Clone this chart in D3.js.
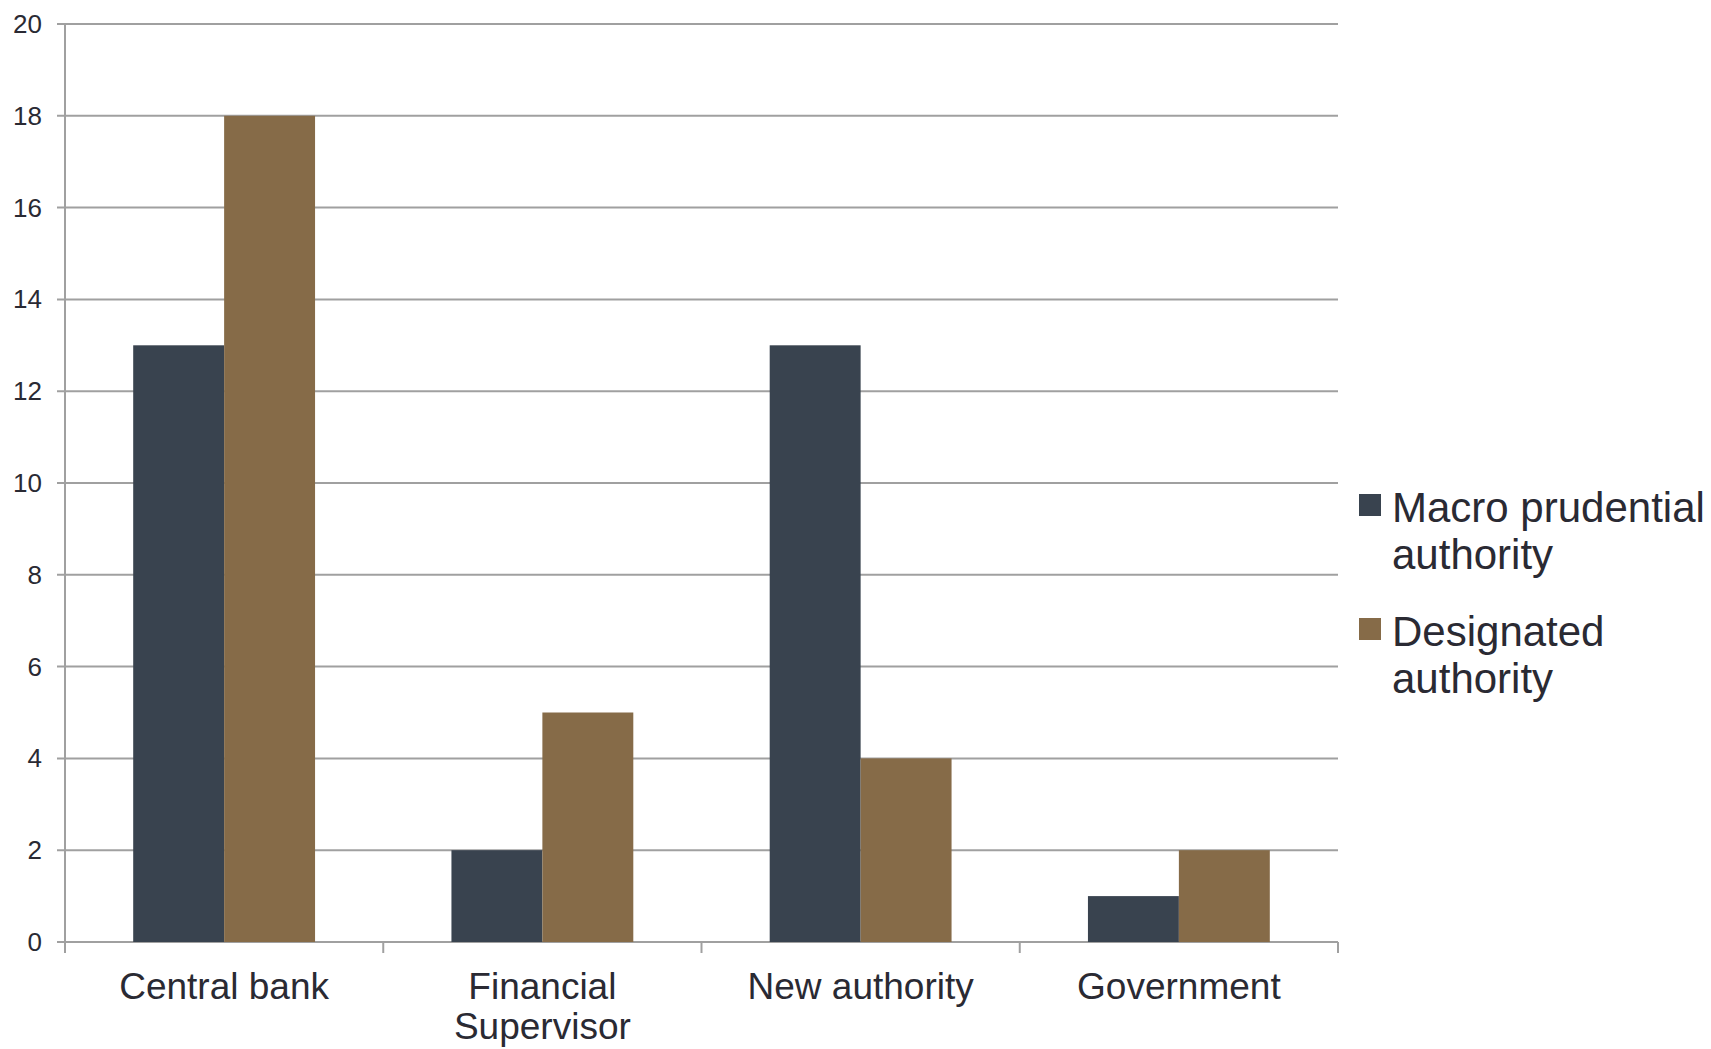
<!DOCTYPE html>
<html>
<head>
<meta charset="utf-8">
<script src="https://cdn.jsdelivr.net/npm/d3@7/dist/d3.min.js"></script>
<style>
  html, body { margin: 0; padding: 0; background: #fff; }
  svg { display: block; }
</style>
</head>
<body>
<svg id="chart" width="1711" height="1049"></svg>
<script>
// Authorities responsible for macroprudential policy, by type of institution
const categories = [["Central bank"], ["Financial", "Supervisor"], ["New authority"], ["Government"]];
const seriesNames = [["Macro prudential", "authority"], ["Designated", "authority"]];
const macroPrudential = [13, 2, 13, 1];
const designated = [18, 5, 4, 2];
const yTicks = [0, 2, 4, 6, 8, 10, 12, 14, 16, 18, 20];
const colors = ["#39434f", "#866b48"];

const svg = d3.select("#chart");
const plotLeft = 65, plotRight = 1338, plotTop = 24, plotBottom = 942;
const gridColor = "#a0a0a0";
const textColor = "#2a2a33";
const font = "'Liberation Sans', Arial, Helvetica, sans-serif";

const keys = categories.map(c => c.join(" "));
const rows = keys.map((k, i) => ({ key: k, values: [macroPrudential[i], designated[i]] }));

const x0 = d3.scaleBand().domain(keys).range([plotLeft, plotRight]).paddingInner(0).paddingOuter(0);
const x1 = d3.scaleBand().domain([0, 1]).range([0, x0.bandwidth()]).paddingInner(0).paddingOuter(0.75);
const y = d3.scaleLinear().domain([0, 20]).range([plotBottom, plotTop]);

// horizontal gridlines with short left ticks
svg.append("g").selectAll("line").data(yTicks).join("line")
  .attr("x1", plotLeft - 8).attr("x2", plotRight)
  .attr("y1", d => y(d)).attr("y2", d => y(d))
  .attr("stroke", gridColor).attr("stroke-width", 2);

// y tick labels
svg.append("g").selectAll("text").data(yTicks).join("text")
  .attr("x", 42).attr("y", d => y(d) + 9)
  .attr("text-anchor", "end")
  .attr("font-family", font).attr("font-size", 26)
  .attr("fill", textColor)
  .text(d => d);

// vertical axis line
svg.append("line")
  .attr("x1", plotLeft).attr("x2", plotLeft).attr("y1", plotTop).attr("y2", plotBottom + 11)
  .attr("stroke", gridColor).attr("stroke-width", 2);

// category boundary ticks
const boundaries = keys.map(k => x0(k)).concat([plotRight]);
svg.append("g").selectAll("line").data(boundaries).join("line")
  .attr("x1", d => d).attr("x2", d => d)
  .attr("y1", plotBottom).attr("y2", plotBottom + 11)
  .attr("stroke", gridColor).attr("stroke-width", 2);

// bars
const groups = svg.append("g").selectAll("g").data(rows).join("g")
  .attr("transform", d => `translate(${x0(d.key)},0)`);
groups.selectAll("rect").data(d => d.values.map((v, i) => ({ v, i }))).join("rect")
  .attr("x", d => x1(d.i))
  .attr("width", x1.bandwidth())
  .attr("y", d => y(d.v))
  .attr("height", d => y(0) - y(d.v))
  .attr("fill", d => colors[d.i]);

// category labels
const catLabels = svg.append("g").selectAll("text").data(categories).join("text")
  .attr("x", (d, i) => x0(keys[i]) + x0.bandwidth() / 2)
  .attr("y", 999)
  .attr("text-anchor", "middle")
  .attr("font-family", font).attr("font-size", 37)
  .attr("fill", textColor);
catLabels.selectAll("tspan").data(d => d).join("tspan")
  .attr("x", function () { return d3.select(this.parentNode).attr("x"); })
  .attr("dy", (d, i) => i === 0 ? 0 : 40)
  .text(d => d);

// legend
const legendTop = [494, 618];
const legend = svg.append("g").selectAll("g").data(seriesNames).join("g");
legend.append("rect")
  .attr("x", 1359).attr("y", (d, i) => legendTop[i])
  .attr("width", 22).attr("height", 22)
  .attr("fill", (d, i) => colors[i]);
const legendText = legend.append("text")
  .attr("x", 1392).attr("y", (d, i) => legendTop[i] + 28)
  .attr("font-family", font).attr("font-size", 42)
  .attr("fill", textColor);
legendText.selectAll("tspan").data(d => d).join("tspan")
  .attr("x", 1392)
  .attr("dy", (d, i) => i === 0 ? 0 : 47)
  .text(d => d);
</script>
</body>
</html>
